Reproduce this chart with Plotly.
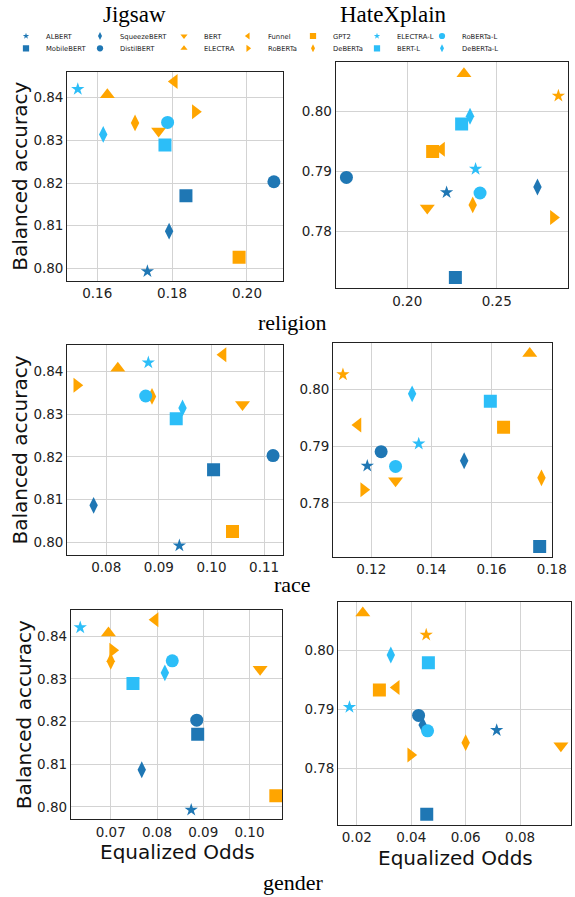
import plotly.graph_objects as go

W, H = 575, 897

# ---------------- data ----------------
models = ["ALBERT", "MobileBERT", "SqueezeBERT", "DistilBERT", "BERT", "ELECTRA",
          "Funnel", "RoBERTa", "GPT2", "DeBERTa", "ELECTRA-L", "BERT-L",
          "RoBERTa-L", "DeBERTa-L"]

jigsaw_acc = [0.7993, 0.8170, 0.8087, 0.8203, 0.8322, 0.8407, 0.8438, 0.8367,
              0.8026, 0.8341, 0.8420, 0.8289, 0.8342, 0.8314]
jigsaw_religion = [0.1734, 0.1837, 0.1792, 0.2072, 0.1764, 0.1627, 0.1806, 0.1862,
                   0.1979, 0.1701, 0.1548, 0.1781, 0.1788, 0.1616]
jigsaw_race = [0.0939, 0.1004, 0.0776, 0.1117, 0.1059, 0.0822, 0.1022, 0.0744,
               0.1040, 0.0887, 0.0880, 0.0933, 0.0875, 0.0945]
jigsaw_gender = [0.0874, 0.0888, 0.0767, 0.0886, 0.1023, 0.0695, 0.0796, 0.0704,
                 0.1057, 0.0700, 0.0634, 0.0748, 0.0833, 0.0817]

# HateXplain has one extra (unlabelled, orange star) model
hatex_models = models + ["(unlabelled)"]
hatex_acc = [0.7865, 0.7723, 0.7874, 0.7890, 0.7839, 0.8063, 0.7937, 0.7823,
             0.7933, 0.7844, 0.7904, 0.7979, 0.7864, 0.7992, 0.8026]
hatex_religion = [0.2220, 0.2269, 0.2728, 0.1660, 0.2112, 0.2317, 0.2192, 0.2817,
                  0.2142, 0.2366, 0.2382, 0.2304, 0.2407, 0.2351, 0.2845]
hatex_race = [0.1187, 0.1760, 0.1509, 0.1233, 0.1281, 0.1727, 0.1156, 0.1175,
              0.1640, 0.1766, 0.1358, 0.1596, 0.1281, 0.1336, 0.1106]
hatex_gender = [0.0714, 0.0457, 0.0442, 0.0427, 0.0950, 0.0222, 0.0345, 0.0398,
                0.0283, 0.0600, 0.0173, 0.0463, 0.0460, 0.0325, 0.0455]

groups = ["religion", "race", "gender"]
datasets = ["Jigsaw", "HateXplain"]

# ---------------- styles ----------------
DB, OR, LB = "#1f77b4", "#FFA500", "#2CBEF8"
style = {
    "ALBERT": (DB, "star", 10), "MobileBERT": (DB, "square", 13),
    "SqueezeBERT": (DB, "diamond-tall", 12), "DistilBERT": (DB, "circle", 13),
    "BERT": (OR, "triangle-down", 13), "ELECTRA": (OR, "triangle-up", 13),
    "Funnel": (OR, "triangle-left", 13), "RoBERTa": (OR, "triangle-right", 13),
    "GPT2": (OR, "square", 13), "DeBERTa": (OR, "diamond-tall", 12),
    "ELECTRA-L": (LB, "star", 10), "BERT-L": (LB, "square", 13),
    "RoBERTa-L": (LB, "circle", 13), "DeBERTa-L": (LB, "diamond-tall", 12),
    "(unlabelled)": (OR, "star", 10),
}

# pixel boxes of the six panels: (left, right, top, bottom)
boxes = {
    ("Jigsaw", "religion"): (67.3, 282.5, 71.7, 280.7),
    ("HateXplain", "religion"): (335.7, 567.7, 62.3, 288.3),
    ("Jigsaw", "race"): (67.3, 282.5, 345.0, 555.0),
    ("HateXplain", "race"): (333.3, 552.3, 342.7, 556.7),
    ("Jigsaw", "gender"): (71.0, 282.3, 610.0, 819.3),
    ("HateXplain", "gender"): (338.3, 570.7, 601.7, 825.0),
}
xranges = {
    ("Jigsaw", "religion"): [0.1520, 0.2095], ("HateXplain", "religion"): [0.1600, 0.2897],
    ("Jigsaw", "race"): [0.0726, 0.1135], ("HateXplain", "race"): [0.1074, 0.1802],
    ("Jigsaw", "gender"): [0.0614, 0.1071], ("HateXplain", "gender"): [0.0132, 0.0986],
}
xdticks = {
    ("Jigsaw", "religion"): 0.02, ("HateXplain", "religion"): 0.05,
    ("Jigsaw", "race"): 0.01, ("HateXplain", "race"): 0.02,
    ("Jigsaw", "gender"): 0.01, ("HateXplain", "gender"): 0.02,
}
yranges = {"Jigsaw": [0.7971, 0.8461], "HateXplain": [0.7705, 0.8082]}

data = {
    "Jigsaw": (models, jigsaw_acc, {"religion": jigsaw_religion, "race": jigsaw_race, "gender": jigsaw_gender}),
    "HateXplain": (hatex_models, hatex_acc, {"religion": hatex_religion, "race": hatex_race, "gender": hatex_gender}),
}

fig = go.Figure()
TICKFONT = dict(family="DejaVu Sans", size=13.5, color="#222")
AXFONT = dict(family="DejaVu Sans", size=20, color="#111")

ax_i = 0
for g in groups:
    for d in datasets:
        ax_i += 1
        suf = "" if ax_i == 1 else str(ax_i)
        l, r, t, b = boxes[(d, g)]
        names, acc, xs = data[d]
        xv = xs[g]
        for i, m in enumerate(names):
            c, sym, sz = style[m]
            fig.add_trace(go.Scatter(
                x=[xv[i]], y=[acc[i]], mode="markers", name=m, showlegend=False,
                marker=dict(color=c, symbol=sym, size=sz, line=dict(width=0)),
                xaxis="x" + suf, yaxis="y" + suf))
        xa = dict(domain=[l / W, r / W], range=xranges[(d, g)], dtick=xdticks[(d, g)],
                  tick0=0, tickformat=".2f", anchor="y" + suf, showgrid=True,
                  gridcolor="#d3d3d3", gridwidth=1, zeroline=False, showline=True,
                  mirror=True, linecolor="#222", linewidth=1.3, ticks="",
                  tickfont=TICKFONT, automargin=False)
        ya = dict(domain=[1 - b / H, 1 - t / H], range=yranges[d], dtick=0.01, tick0=0,
                  tickformat=".2f", anchor="x" + suf, showgrid=True, gridcolor="#d3d3d3",
                  gridwidth=1, zeroline=False, showline=True, mirror=True,
                  linecolor="#222", linewidth=1.3, ticks="", tickfont=TICKFONT,
                  automargin=False)
        if d == "Jigsaw":
            ya["title"] = dict(text="Balanced accuracy", font=AXFONT, standoff=0)
        fig.layout["xaxis" + suf] = xa
        fig.layout["yaxis" + suf] = ya

# legend: one small legend per entry (2 rows x 7 columns)
col_x = [30, 104, 188, 252, 317, 381, 446]
row_y = [36, 48.3]
legend_layout = {}
for i, m in enumerate(models):
    c, sym, sz = style[m]
    col, row = i // 2, i % 2
    key = "legend" if i == 0 else "legend%d" % (i + 1)
    fig.add_trace(go.Scatter(
        x=[None], y=[None], mode="markers", name=m, showlegend=True, legend=key,
        marker=dict(color=c, symbol=sym, size=sz * 0.48, line=dict(width=0))))
    legend_layout[key] = dict(
        x=(col_x[col] - 24) / W, y=1 - row_y[row] / H, xanchor="left", yanchor="middle",
        bgcolor="rgba(0,0,0,0)", borderwidth=0, itemwidth=30,
        font=dict(family="DejaVu Sans", size=6.8, color="#222"), tracegroupgap=0)
fig.update_layout(**legend_layout)

SERIF = "Liberation Serif"
ann = [
    dict(text="Jigsaw", x=134 / W, y=1 - 14 / H, font=dict(family=SERIF, size=23, color="#000")),
    dict(text="HateXplain", x=393 / W, y=1 - 14 / H, font=dict(family=SERIF, size=23, color="#000")),
    dict(text="religion", x=292 / W, y=1 - 322 / H, font=dict(family=SERIF, size=22, color="#000")),
    dict(text="race", x=292 / W, y=1 - 584 / H, font=dict(family=SERIF, size=22, color="#000")),
    dict(text="gender", x=293 / W, y=1 - 882 / H, font=dict(family=SERIF, size=22, color="#000")),
    # x-axis titles of the bottom row
    dict(text="Equalized Odds", x=177 / W, y=1 - 852 / H, font=AXFONT),
    dict(text="Equalized Odds", x=455 / W, y=1 - 858 / H, font=AXFONT),
]
for a in ann:
    a.update(xref="paper", yref="paper", showarrow=False, xanchor="center", yanchor="middle")
fig.update_layout(
    width=W, height=H, margin=dict(l=0, r=0, t=0, b=0, autoexpand=False),
    paper_bgcolor="white", plot_bgcolor="white", annotations=ann,
)

# remove the browser's default 8px body margin so the figure fills the window
fig.write_html("out.html",
               config={"displayModeBar": False},
               post_script="document.body.style.margin='0';"
                           "document.body.style.overflow='hidden';")
